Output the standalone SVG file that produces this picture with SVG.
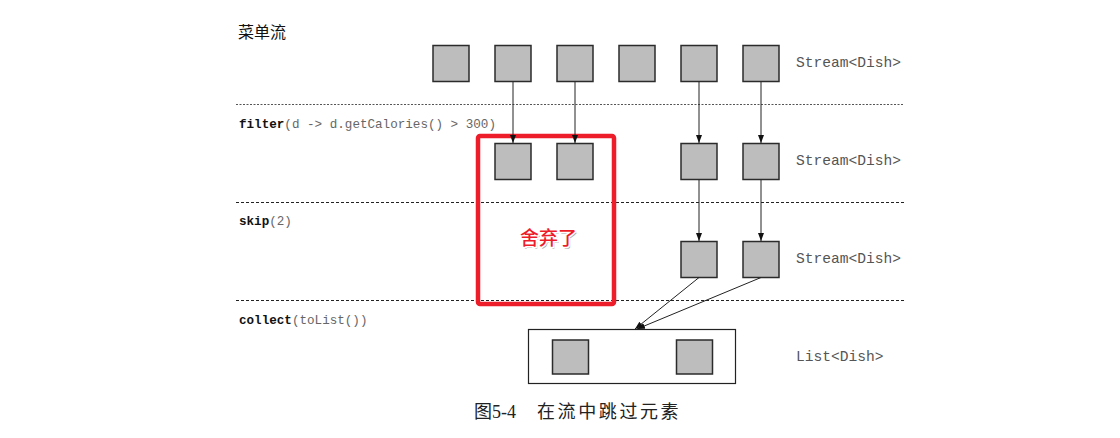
<svg xmlns="http://www.w3.org/2000/svg" width="1120" height="438" viewBox="0 0 1120 438">
  <style>
    .item { fill: #bdbdbd; stroke: #2b2b2b; stroke-width: 1.5; }
    .sep { stroke: #222; stroke-width: 1; stroke-dasharray: 3 2; }
    .sep.light { stroke: #555; stroke-dasharray: 2 1.5; }
    .edge { stroke: #222; stroke-width: 1; fill: none; marker-end: url(#arrow); }
    .code { font-family: "Liberation Mono", "DejaVu Sans Mono", monospace; font-size: 12.6px; fill: #666; }
    .kw { font-weight: bold; fill: #111; }
    .type { font-family: "Liberation Mono", "DejaVu Sans Mono", monospace; font-size: 14.6px; fill: #555; }
    .title { font-family: "Noto Sans CJK SC", sans-serif; font-size: 16px; fill: #111; }
    .caption { font-family: "Liberation Serif", "Noto Sans CJK SC", serif; font-size: 18px; fill: #222; }
    .note { font-family: "Noto Sans CJK SC", sans-serif; font-size: 19px; font-weight: 500; text-anchor: middle; }
  </style>
  <defs>
    <marker id="arrow" viewBox="0 0 8 8" refX="8" refY="4" markerWidth="8" markerHeight="8" markerUnits="userSpaceOnUse" orient="auto">
      <path d="M0,1 L8,4 L0,7 Z" fill="#111"/>
    </marker>
  </defs>
  <rect width="1120" height="438" fill="#fff"/>

  <!-- stage separators -->
  <g id="separators">
    <line class="sep light" x1="236" y1="104.5" x2="904" y2="104.5"/>
    <line class="sep" x1="236" y1="202.5" x2="904" y2="202.5"/>
    <line class="sep" x1="236" y1="300.5" x2="904" y2="300.5"/>
  </g>

  <!-- stage labels -->
  <g id="labels">
    <text class="title" x="238" y="38">菜单流</text>
    <text class="code" x="239" y="128"><tspan class="kw">filter</tspan>(d -&gt; d.getCalories() &gt; 300)</text>
    <text class="code" x="239" y="225"><tspan class="kw">skip</tspan>(2)</text>
    <text class="code" x="239" y="324"><tspan class="kw">collect</tspan>(toList())</text>
    <text class="type" x="796" y="67">Stream&lt;Dish&gt;</text>
    <text class="type" x="796" y="165">Stream&lt;Dish&gt;</text>
    <text class="type" x="796" y="263">Stream&lt;Dish&gt;</text>
    <text class="type" x="796" y="361">List&lt;Dish&gt;</text>
  </g>

  <!-- source stream -->
  <g id="menu">
    <rect class="item" x="433" y="45.5" width="36" height="36"/>
    <rect class="item" x="495" y="45.5" width="36" height="36"/>
    <rect class="item" x="557" y="45.5" width="36" height="36"/>
    <rect class="item" x="619" y="45.5" width="36" height="36"/>
    <rect class="item" x="681" y="45.5" width="36" height="36"/>
    <rect class="item" x="743" y="45.5" width="36" height="36"/>
  </g>

  <!-- after filter -->
  <g id="filtered">
    <rect class="item" x="495" y="143.5" width="36" height="36"/>
    <rect class="item" x="557" y="143.5" width="36" height="36"/>
    <rect class="item" x="681" y="143.5" width="36" height="36"/>
    <rect class="item" x="743" y="143.5" width="36" height="36"/>
  </g>

  <!-- after skip -->
  <g id="skipped">
    <rect class="item" x="681" y="241.5" width="36" height="36"/>
    <rect class="item" x="743" y="241.5" width="36" height="36"/>
  </g>

  <!-- collected list -->
  <g id="list">
    <rect x="528.5" y="329.5" width="207" height="54" fill="#fff" stroke="#222" stroke-width="1.2"/>
    <rect class="item" x="552.5" y="340" width="36" height="34"/>
    <rect class="item" x="676.5" y="340" width="36" height="34"/>
  </g>

  <!-- discarded elements -->
  <g id="discarded">
    <rect x="478" y="136" width="136" height="168" rx="2" fill="none" stroke="#ee1d2a" stroke-width="4.5"/>
    <text class="note" x="550" y="246.5" fill="#aaa">舍弃了</text>
    <text class="note" x="548.5" y="245" fill="#ee1d2a" stroke="#fff" stroke-width="3" paint-order="stroke">舍弃了</text>
  </g>

  <!-- connectors -->
  <g id="connectors">
    <line class="edge" x1="513" y1="82" x2="513" y2="143"/>
    <line class="edge" x1="575" y1="82" x2="575" y2="143"/>
    <line class="edge" x1="699" y1="82" x2="699" y2="143"/>
    <line class="edge" x1="761" y1="82" x2="761" y2="143"/>
    <line class="edge" x1="699" y1="180" x2="699" y2="241"/>
    <line class="edge" x1="761" y1="180" x2="761" y2="241"/>
    <line class="edge" x1="699" y1="277.5" x2="635" y2="329"/>
    <line class="edge" x1="761" y1="277.5" x2="637" y2="329"/>
  </g>

  <text class="caption" x="474" y="418"><tspan>图5-4</tspan><tspan x="537" letter-spacing="2.6">在流中跳过元素</tspan></text>
</svg>
